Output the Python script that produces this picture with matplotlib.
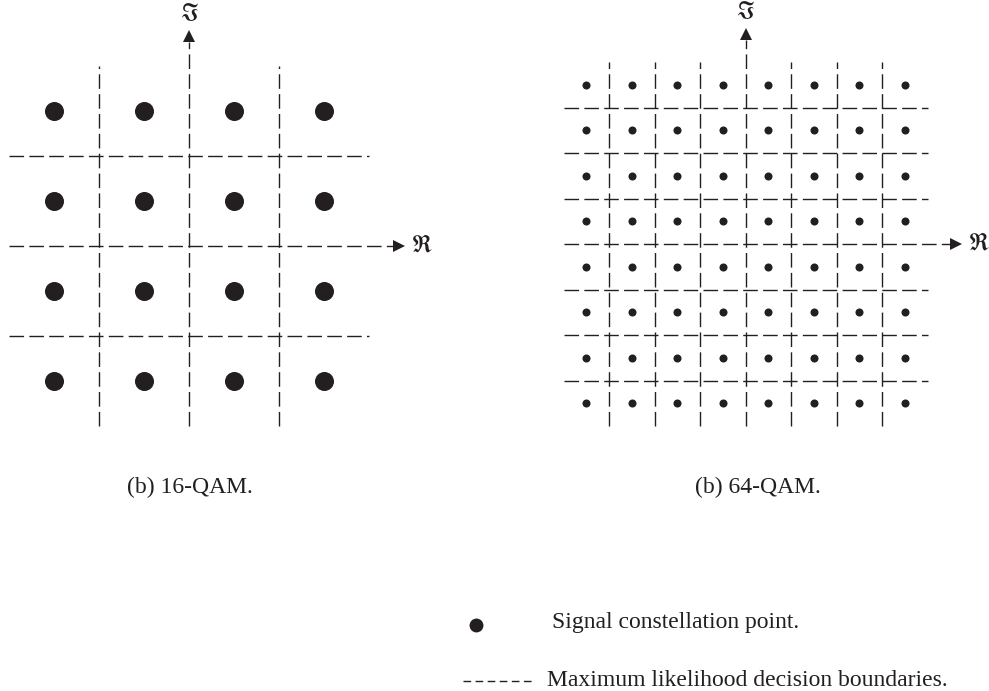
import matplotlib
matplotlib.use('Agg')
import matplotlib.pyplot as plt

plt.rcParams['font.family'] = ['Liberation Serif', 'DejaVu Serif']
plt.rcParams['mathtext.fontset'] = 'stix'

# constellation levels (in-phase / quadrature) and decision boundaries
qam16_levels = [-3, -1, 1, 3]
qam16_bounds = [-2, 2]
qam16_extent = 4
qam64_levels = [-7, -5, -3, -1, 1, 3, 5, 7]
qam64_bounds = [-6, -4, -2, 2, 4, 6]
qam64_extent = 8

captions = ['(b) 16-QAM.', '(b) 64-QAM.']
legend_labels = ['Signal constellation point.', 'Maximum likelihood decision boundaries.']

ink = '#231f20'
W, H = 989, 691
fig = plt.figure(figsize=(W / 100, H / 100), dpi=100)


def make_axes(box, center, ppu):
    # box is (left, top, right, bottom) in pixels, measured from top-left
    l, t, r, b = box
    ax = fig.add_axes([l / W, 1 - b / H, (r - l) / W, (b - t) / H])
    cx, cy = center
    ax.set_xlim((l - cx) / ppu, (r - cx) / ppu)
    ax.set_ylim((cy - b) / ppu, (cy - t) / ppu)
    ax.axis('off')
    return ax


def draw_qam(ax, levels, bounds, extent, tip, ppu, dot_ms):
    dash = dict(color=ink, lw=1.0, dashes=(10.5, 3.8), clip_on=False)
    for v in bounds:
        ax.plot([v, v], [-extent, extent], **dash)
        ax.plot([-extent, extent], [v, v], **dash)
    head = 12 / ppu
    # real and imaginary axes with arrow heads
    ax.plot([-extent, tip - head], [0, 0], **dash)
    ax.plot([0, 0], [-extent, tip - head], **dash)
    ax.plot(tip - head / 2, 0, marker='>', ms=9, color=ink, mew=0, clip_on=False)
    ax.plot(0, tip - head / 2, marker='^', ms=9, color=ink, mew=0, clip_on=False)
    ax.text(tip + 17 / ppu, 0, r'$\Re$', fontsize=17, ha='center', va='center', color=ink)
    ax.text(0, tip + 16 / ppu, r'$\Im$', fontsize=17, ha='center', va='center', color=ink)
    for x in levels:
        for y in levels:
            ax.plot(x, y, 'o', ms=dot_ms, color=ink, mew=0, clip_on=False)


ax16 = make_axes((0, 0, 470, 450), (189, 246.4), 45)
draw_qam(ax16, qam16_levels, qam16_bounds, qam16_extent, 4.8, 45, 13.7)

ax64 = make_axes((520, 0, 989, 450), (745.5, 244.2), 22.75)
draw_qam(ax64, qam64_levels, qam64_bounds, qam64_extent, 9.5, 22.75, 5.8)

# captions and legend, placed in pixel coordinates
ov = fig.add_axes([0, 0, 1, 1])
ov.set_xlim(0, W)
ov.set_ylim(H, 0)
ov.axis('off')

ov.text(190, 487, captions[0], fontsize=17, ha='center', va='center', color=ink)
ov.text(758, 487, captions[1], fontsize=17, ha='center', va='center', color=ink)

ov.plot(476, 625, 'o', ms=10, color=ink, mew=0)
ov.text(552, 628, legend_labels[0], fontsize=17, ha='left', va='baseline', color=ink)
ov.plot([463, 535], [681, 681], color=ink, lw=1.0, dashes=(5.5, 3.2))
ov.text(547, 686, legend_labels[1], fontsize=17, ha='left', va='baseline', color=ink)

fig.savefig('out.png', dpi=100, facecolor='white')
